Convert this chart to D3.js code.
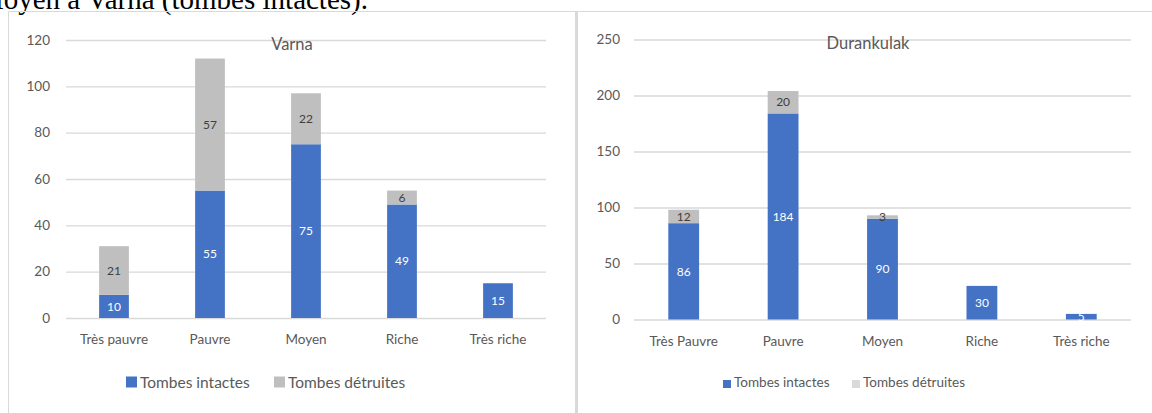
<!DOCTYPE html>
<html><head><meta charset="utf-8">
<script src="https://cdn.jsdelivr.net/npm/d3@7"></script>
<style>body{margin:0;background:#fff;overflow:hidden}svg{display:block}</style>
</head><body>
<svg id="c" width="1152" height="413"></svg>
<script>
const varnaCategories = ["Très pauvre","Pauvre","Moyen","Riche","Très riche"];
const varnaIntact = [10,55,75,49,15];
const varnaDestroyed = [21,57,22,6,0];
const varnaTicks = [0,20,40,60,80,100,120];

const durCategories = ["Très Pauvre","Pauvre","Moyen","Riche","Très riche"];
const durIntact = [86,184,90,30,5];
const durDestroyed = [12,20,3,0,0];
const durTicks = [0,50,100,150,200,250];

const seriesNames = ["Tombes intactes","Tombes détruites"];
const FONT = "Lato, 'Open Sans', sans-serif";
const BLUE = "#4472c4", GREY = "#bfbfbf";

const svg = d3.select("#c");

// caption text from document above (clipped at top of page)
svg.append("text").attr("x",368).attr("y",9).attr("text-anchor","end")
  .attr("font-family","'Liberation Serif','Times New Roman',serif").attr("font-size",29).attr("fill","#000")
  .text("Moyen à Varna (tombes intactes).");

// frames
svg.append("line").attr("x1",8.5).attr("x2",1152).attr("y1",11.5).attr("y2",11.5).attr("stroke","#d9d9d9");
svg.append("line").attr("x1",8.5).attr("x2",8.5).attr("y1",11.5).attr("y2",413).attr("stroke","#d9d9d9");
svg.append("rect").attr("x",575).attr("y",11).attr("width",3).attr("height",402).attr("fill","#d9d9d9");

function drawChart(o){
  const g = svg.append("g");
  const x = d3.scaleBand().domain(o.categories).range([o.x0,o.x1]).paddingInner(o.pad).paddingOuter(o.pad/2);
  const y = d3.scaleLinear().domain([0,o.ticks[o.ticks.length-1]]).range([o.y0,o.y1]);
  const ax = d3.axisLeft(y).tickValues(o.ticks).tickSize(-(o.x1-o.x0)).tickPadding(o.tickPad);
  const ga = g.append("g").attr("transform",`translate(${o.x0},0)`).call(ax);
  ga.select(".domain").remove();
  ga.selectAll(".tick line").attr("stroke","#d9d9d9").attr("stroke-width",1.3);
  ga.selectAll(".tick text").attr("font-family",FONT).attr("font-size",13.5).attr("fill","#595959");
  g.append("text").attr("x",o.titleX).attr("y",o.titleY).attr("text-anchor","middle")
   .attr("font-family",FONT).attr("font-size",16.5).attr("fill","#595959").text(o.title);
  const data = o.categories.map((c,i)=>({c, a:o.intact[i], b:o.destroyed[i]}));
  g.selectAll(".ba").data(data).join("rect").attr("x",d=>x(d.c)).attr("width",x.bandwidth())
   .attr("y",d=>y(d.a)).attr("height",d=>y(0)-y(d.a)).attr("fill",BLUE);
  g.selectAll(".bb").data(data.filter(d=>d.b>0)).join("rect").attr("x",d=>x(d.c)).attr("width",x.bandwidth())
   .attr("y",d=>y(d.a+d.b)).attr("height",d=>y(d.a)-y(d.a+d.b)).attr("fill",GREY);
  g.selectAll(".la").data(data).join("text").attr("x",d=>x(d.c)+x.bandwidth()/2).attr("y",d=>y(d.a/2))
   .attr("dy","0.35em").attr("text-anchor","middle").attr("font-family",FONT).attr("font-size",12)
   .attr("fill","#fff").text(d=>d.a);
  g.selectAll(".lb").data(data.filter(d=>d.b>0)).join("text").attr("x",d=>x(d.c)+x.bandwidth()/2).attr("y",d=>y(d.a+d.b/2))
   .attr("dy","0.35em").attr("text-anchor","middle").attr("font-family",FONT).attr("font-size",12)
   .attr("fill","#404040").text(d=>d.b);
  const bx = d3.axisBottom(x).tickSize(0).tickPadding(o.catPad);
  const gb = g.append("g").attr("transform",`translate(0,${o.y0})`).call(bx);
  gb.select(".domain").remove();
  gb.selectAll(".tick text").attr("font-family",FONT).attr("font-size",13.5).attr("fill","#595959");
  const lg = g.append("g");
  o.legendX.forEach((lx,i)=>{
    lg.append("rect").attr("x",lx).attr("y",o.legendY-o.sq/2-1+(o.sqOff||0)).attr("width",o.sq).attr("height",o.sq).attr("fill",o.legendColors[i]);
    lg.append("text").attr("x",lx+o.sq+3).attr("y",o.legendY).attr("dy","0.35em").attr("font-family",FONT)
      .attr("font-size",o.legendFont).attr("fill","#595959").text(seriesNames[i]);
  });
}

drawChart({categories:varnaCategories,intact:varnaIntact,destroyed:varnaDestroyed,ticks:varnaTicks,
  x0:66,x1:546,y0:318,y1:40,pad:0.69,tickPad:16,catPad:16,title:"Varna",titleX:292,titleY:50,
  legendX:[126,274],legendY:383,sq:11,legendFont:15.5,legendColors:[BLUE,GREY]});

drawChart({categories:durCategories,intact:durIntact,destroyed:durDestroyed,ticks:durTicks,
  x0:634,x1:1131,y0:319.5,y1:39.5,pad:0.69,tickPad:14,catPad:17,title:"Durankulak",titleX:868,titleY:49,
  legendX:[723,852],legendY:382,sq:8,sqOff:3,legendFont:13.5,legendColors:[BLUE,"#d9d9d9"]});
</script>
</body></html>
